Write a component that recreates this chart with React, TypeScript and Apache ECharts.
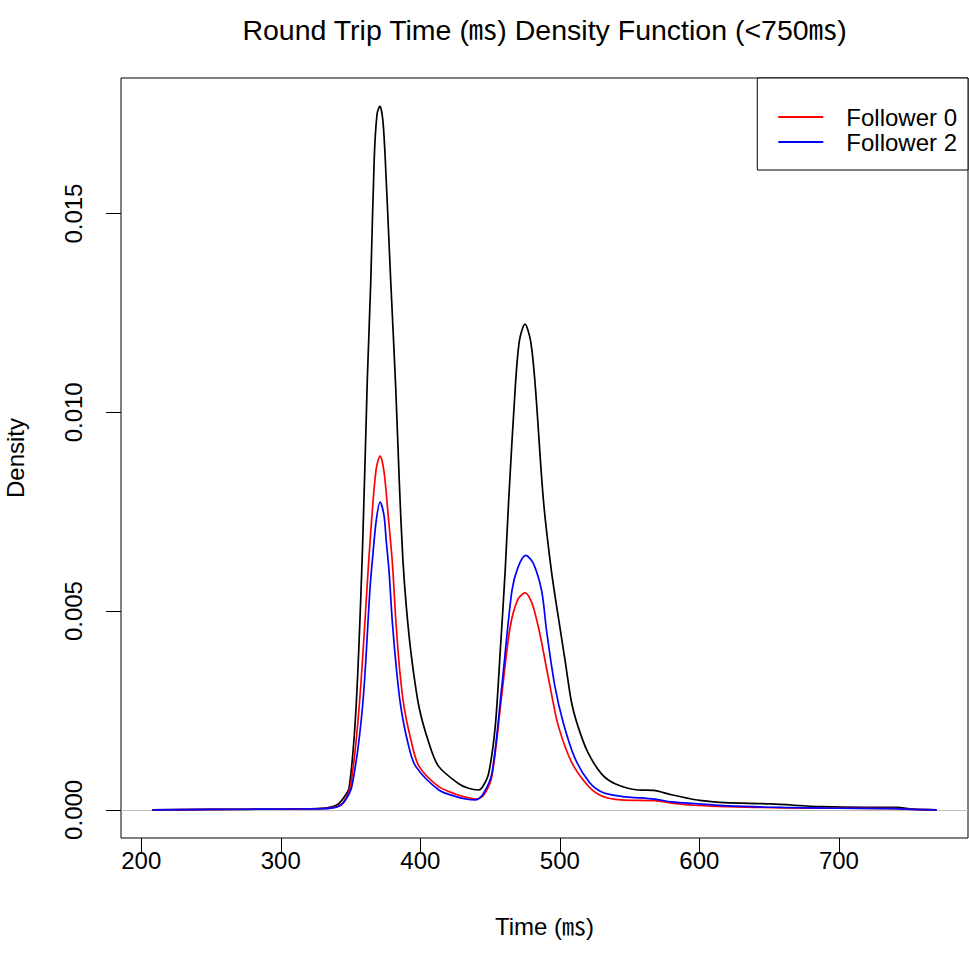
import React, { useEffect, useRef } from 'react';
import * as echarts from 'echarts';

const TITLE = 'Round Trip Time (㎳) Density Function (<750㎳)';
const X_LABEL = 'Time (㎳)';
const Y_LABEL = 'Density';
const X_TICKS = [200, 300, 400, 500, 600, 700];
const Y_TICKS = [0, 0.005, 0.01, 0.015];
const LEGEND_NAMES = ['Follower 0', 'Follower 2'];

// Overall density (black)
const ALL_X = [208, 250, 300, 330, 340, 345, 349, 354, 358.6, 362, 364.5, 367, 369, 371, 373, 374.7, 378.8, 382.4, 385, 387.5, 390, 393.5, 399, 406, 413, 427, 434, 441.8, 445, 449, 453.7, 457.3, 460.8, 463.2, 468, 471, 475, 479, 482.2, 488.2, 494, 500, 504, 508.4, 513, 520, 530, 540, 556, 567, 580, 592, 600, 618, 651, 687, 720, 741, 753, 770];
const ALL_Y = [0, 0.00001, 0.00002, 0.00004, 0.00012, 0.0003, 0.00055, 0.0026, 0.0066, 0.0108, 0.0133, 0.0164, 0.0175, 0.0177, 0.0174, 0.0165, 0.0133, 0.0106, 0.0082, 0.0063, 0.0051, 0.0039, 0.0026, 0.0017, 0.0011, 0.00067, 0.00055, 0.0005, 0.0006, 0.00092, 0.0021, 0.004, 0.006, 0.0077, 0.0106, 0.0118, 0.01222, 0.0118, 0.01075, 0.0078, 0.006, 0.0046, 0.0037, 0.0027, 0.0021, 0.00145, 0.0009, 0.00065, 0.0005, 0.00049, 0.00038, 0.00029, 0.00024, 0.00018, 0.00015, 0.00008, 0.00006, 0.00006, 0.00002, 0];

// Follower 0 (red)
const F0_X = [208, 250, 300, 330, 340, 345, 350, 356.2, 363.3, 366, 368.5, 371.2, 374, 377, 380, 382.4, 385, 388.3, 393, 399, 413, 425, 434.7, 440.6, 446, 451.3, 458.4, 464.4, 470, 475.1, 480, 484.6, 487, 494.1, 499, 508.4, 520.3, 530, 544, 568, 580, 599, 620, 660, 700, 740, 755, 770];
const F0_Y = [0, 0.00001, 0.00002, 0.00003, 0.00008, 0.0002, 0.0006, 0.0026, 0.0064, 0.0077, 0.0086, 0.0089, 0.0085, 0.0074, 0.0062, 0.0048, 0.0036, 0.0026, 0.0018, 0.0011, 0.00059, 0.0004, 0.0003, 0.00027, 0.0004, 0.00084, 0.0029, 0.0046, 0.0053, 0.00546, 0.0052, 0.0046, 0.0042, 0.0029, 0.0021, 0.0012, 0.0006, 0.00035, 0.00025, 0.00023, 0.00017, 0.00011, 0.00008, 0.00005, 0.00004, 0.00003, 0.00001, 0];

// Follower 2 (blue)
const F2_X = [208, 250, 300, 330, 340, 345, 351, 358.6, 364, 365.7, 368.5, 371.2, 374, 375.5, 377.6, 380, 383, 386, 391, 396.6, 413.3, 425, 434.7, 439.5, 445, 451.3, 458.4, 465.6, 470, 475.6, 481, 487, 490.5, 496.5, 502.4, 510.8, 521, 530, 544, 568, 580, 599, 620, 660, 700, 740, 755, 770];
const F2_Y = [0, 0.00001, 0.00002, 0.00003, 0.00007, 0.00018, 0.0006, 0.0026, 0.0056, 0.0063, 0.0073, 0.00774, 0.0074, 0.0068, 0.006, 0.0047, 0.0035, 0.0026, 0.0017, 0.0011, 0.0005, 0.00034, 0.00026, 0.00025, 0.0004, 0.00092, 0.0031, 0.0055, 0.0061, 0.0064, 0.0062, 0.0055, 0.0045, 0.0031, 0.0022, 0.0013, 0.0007, 0.00045, 0.00034, 0.00027, 0.0002, 0.00015, 0.0001, 0.00006, 0.00004, 0.00003, 0.00001, 0];

const FONT = "'Liberation Sans', Arial, 'Noto Sans CJK JP', sans-serif";

const pairs = (xs: number[], ys: number[]) => xs.map((x, i) => [x, ys[i]]);

export default function App() {
  const ref = useRef<HTMLDivElement>(null);
  useEffect(() => {
    if (!ref.current) return;
    const chart = echarts.init(ref.current, undefined, { renderer: 'svg' });
    const lineSeries = (name: string, color: string, data: number[][], z: number) => ({
      name,
      type: 'line',
      data,
      color,
      showSymbol: false,
      symbol: 'none',
      smooth: 0.3,
      lineStyle: { color, width: 1.7 },
      z,
    });
    chart.setOption({
      animation: false,
      backgroundColor: '#ffffff',
      textStyle: { fontFamily: FONT },
      graphic: [
        {
          type: 'text',
          x: 544.5,
          y: 30,
          style: {
            text: TITLE,
            fontSize: 28.5,
            fontFamily: FONT,
            fill: '#000',
            textAlign: 'center',
            textVerticalAlign: 'middle',
          },
        },
      ],
      grid: {
        left: 121,
        top: 78,
        right: 1,
        bottom: 117,
        containLabel: false,
        outerBoundsMode: 'none',
        show: true,
        borderColor: '#000',
        borderWidth: 1,
        backgroundColor: 'transparent',
      },
      legend: {
        data: LEGEND_NAMES,
        orient: 'vertical',
        right: 1,
        top: 78,
        padding: [27, 11, 16, 21],
        itemGap: 1,
        itemWidth: 45,
        itemHeight: 2,
        icon: 'rect',
        borderColor: '#000',
        borderWidth: 1,
        borderRadius: 0,
        backgroundColor: '#fff',
        textStyle: { fontSize: 24, lineHeight: 24, color: '#000', fontFamily: FONT, padding: [0, 0, 0, 18] },
      },
      xAxis: {
        type: 'value',
        min: 185.5,
        max: 792.5,
        name: X_LABEL,
        nameLocation: 'middle',
        nameGap: 76,
        nameTextStyle: { fontSize: 24, color: '#000', fontFamily: FONT },
        axisLine: { show: false, onZero: false },
        splitLine: { show: false },
        axisTick: { show: true, customValues: X_TICKS, length: 15, inside: false, lineStyle: { color: '#000', width: 1 } },
        axisLabel: { customValues: X_TICKS, fontSize: 24, color: '#000', margin: 10, fontFamily: FONT },
      },
      yAxis: {
        type: 'value',
        min: -0.000708,
        max: 0.01841,
        name: Y_LABEL,
        nameLocation: 'middle',
        nameGap: 94,
        nameRotate: 90,
        nameTextStyle: { fontSize: 24, color: '#000', fontFamily: FONT },
        axisLine: { show: false, onZero: false },
        splitLine: { show: false },
        axisTick: { show: true, customValues: Y_TICKS, length: 15, inside: false, lineStyle: { color: '#000', width: 1 } },
        axisLabel: {
          customValues: Y_TICKS,
          rotate: 90,
          fontSize: 24,
          color: '#000',
          margin: 36,
          fontFamily: FONT,
          formatter: (v: number) => v.toFixed(3),
        },
      },
      series: [
        {
          ...lineSeries('All', '#000000', pairs(ALL_X, ALL_Y), 3),
          markLine: {
            silent: true,
            symbol: 'none',
            label: { show: false },
            lineStyle: { color: '#bebebe', width: 1, type: 'solid' },
            data: [{ yAxis: 0 }],
            z: 1,
          },
        },
        lineSeries('Follower 0', '#ff0000', pairs(F0_X, F0_Y), 4),
        lineSeries('Follower 2', '#0000ff', pairs(F2_X, F2_Y), 5),
      ],
    });
    return () => chart.dispose();
  }, []);
  return <div ref={ref} style={{ position: 'absolute', left: 0, top: 0, width: 969, height: 955 }} />;
}
